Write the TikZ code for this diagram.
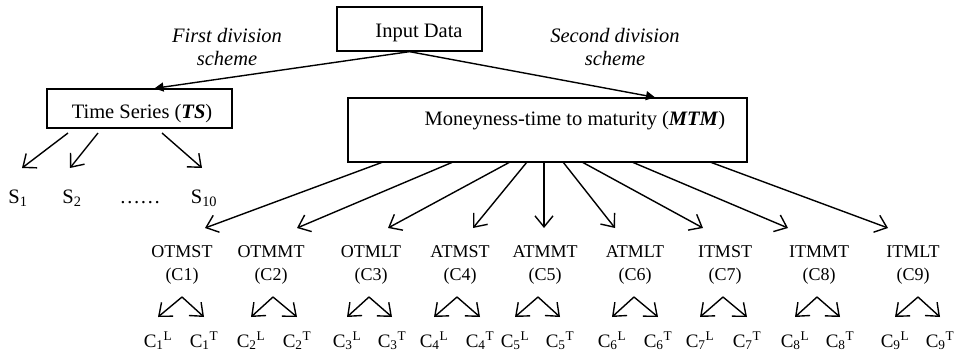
\documentclass[tikz,border=0pt]{standalone}
\usepackage{fontspec}
\setmainfont{Liberation Serif}
\usetikzlibrary{arrows.meta}
\tikzset{
  box/.style={draw, line width=1.3pt, inner sep=0pt},
  big/.style={font=\fontsize{20.5}{23}\selectfont, inner sep=0pt},
  mid/.style={font=\fontsize{18}{23}\selectfont, inner sep=0pt},
  sml/.style={font=\fontsize{19}{23}\selectfont, inner sep=0pt},
  arr/.style={line width=1.4pt, -{Straight Barb[length=11pt,width=18pt]}},
  farr/.style={line width=1.4pt, -{Triangle[length=9pt,width=9pt]}},
}
\begin{document}
\begin{tikzpicture}[x=1pt,y=-1pt]
\useasboundingbox (0,0) rectangle (956,351);
% boxes
\node[box, minimum width=145pt, minimum height=44pt] (in) at (409.5,29) {};
\node[big, anchor=base] (intext) at (419,37) {Input Data};
\node[box, minimum width=185pt, minimum height=39pt] (ts) at (139.5,108.5) {};
\node[big, anchor=base] (tstext) at (142,118) {Time Series (\textbf{\textit{TS}})};
\node[box, minimum width=399pt, minimum height=64pt] (mtm) at (547.5,130) {};
\node[big, anchor=base] (mtmtext) at (575,125) {Moneyness-time to maturity (\textbf{\textit{MTM}})};
% scheme labels
\node[big, anchor=base] (fd1) at (227,42) {\textit{First division}};
\node[big, anchor=base] (fd2) at (227,65) {\textit{scheme}};
\node[big, anchor=base] (sd1) at (615,42) {\textit{Second division}};
\node[big, anchor=base] (sd2) at (615,65) {\textit{scheme}};
% division arrows
\draw[farr] (in.south) -- ([xshift=15pt]ts.north);
\draw[farr] (in.south) -- ([xshift=107.5pt]mtm.north);
% time series branch
\node[big, anchor=base] (s1) at (18,203) {S\textsubscript{1}};
\node[big, anchor=base] (s2) at (72,203) {S\textsubscript{2}};
\node[big, anchor=base] (sdots) at (140,203) {……};
\node[big, anchor=base] (s10) at (204,203) {S\textsubscript{10}};
\foreach \a/\b/\c/\d [count=\i] in {68/133/22/168, 98/133/70/168, 162/133/202/168}{
  \coordinate (tsa\i) at (\a,\b);
  \coordinate (tsb\i) at (\c,\d);
  \draw[arr] (tsa\i) -- (tsb\i);
}
% MTM categories
\foreach \x/\n [count=\i] in {182/OTMST, 271/OTMMT, 371/OTMLT, 460/ATMST, 545/ATMMT, 635/ATMLT, 725/ITMST, 819/ITMMT, 913/ITMLT}{
  \node[mid, anchor=base] (cat\i) at (\x,257) {\n};
  \node[mid, anchor=base] (cid\i) at (\x,280) {(C\i)};
}
\foreach \s/\t [count=\i] in {383/205, 453/297, 510/388, 527/473, 544/544, 563/615, 582/703, 632/788, 710/888}{
  \coordinate (ms\i) at (\s,162);
  \coordinate (mt\i) at (\t,228);
  \draw[arr] (ms\i) -- (mt\i);
}
% sub-splits
\foreach \a/\l/\r [count=\i] in {182/158/204, 273/251/297, 369/347/392, 457/434/480, 538/515/560, 634/612/658, 723/700/747, 817/795/840, 918/895/940}{
  \coordinate (ap\i) at (\a,297);
  \coordinate (lt\i) at (\l,317);
  \coordinate (rt\i) at (\r,317);
  \draw[arr] (ap\i) -- (lt\i);
  \draw[arr] (ap\i) -- (rt\i);
  \node[sml, anchor=base] (cl\i) at (\l,347) {C\textsubscript{\i}\textsuperscript{L}};
  \node[sml, anchor=base] (ct\i) at (\r,347) {C\textsubscript{\i}\textsuperscript{T}};
}
\end{tikzpicture}
\end{document}
